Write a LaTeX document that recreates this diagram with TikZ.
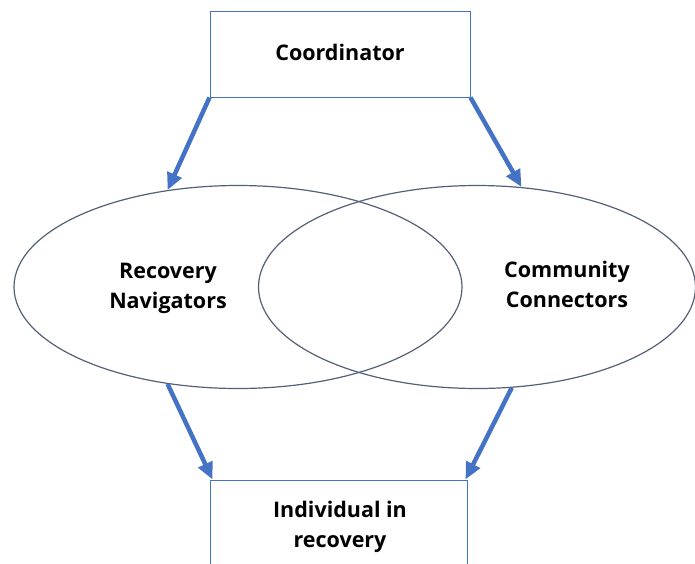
\documentclass[tikz,border=0pt]{standalone}
\usepackage{fontspec}
\setmainfont{Open Sans}
\usepackage{tikz}
\usetikzlibrary{arrows.meta}
\usetikzlibrary{positioning}
\usetikzlibrary{shapes.geometric}

\definecolor{flowblue}{RGB}{68,114,196}
\definecolor{ringgrey}{RGB}{84,96,120}

\tikzset{
  rolebox/.style={draw=flowblue, line width=1pt, inner sep=0pt},
  rolering/.style={draw=ringgrey, ellipse, line width=1.2pt, inner sep=0pt,
    minimum width=448pt, minimum height=203pt},
  rolename/.style={align=center, anchor=base, inner sep=0pt,
    font=\bfseries\fontsize{21.5}{30}\selectfont},
  flow/.style={draw=flowblue, line width=4.5pt,
    -{Triangle[length=17pt,width=15pt]}}
}

\begin{document}
\begin{tikzpicture}[x=1pt, y=-1pt]

    \clip (0, 0) rectangle (695, 563);
    \fill [white] (0, 0) rectangle (695, 563);

    \node [rolebox, minimum width=260pt, minimum height=86pt]
      (coord) at (340, 54) {};
    \node [rolename] (coordtext) at (340, 60) {Coordinator};

    \node [rolering] (nav) at (238, 287) {};
    \node [rolering, minimum width=437pt] (con) at (477, 287) {};
    \node [rolename] (navtext) at (168, 308) {Recovery\\Navigators};
    \node [rolename] (context) at (567, 307) {Community\\Connectors};

    \node [rolebox, minimum width=257pt, minimum height=130pt]
      (indiv) at (338.5, 545) {};
    \node [rolename] (indivtext) at (340, 547) {Individual in\\recovery};

    \draw [flow] (coord.south west) -- (nav.126);
    \draw [flow] (coord.south east) -- (con.66);

    \draw [flow] (nav.234) -- ([xshift=3pt]indiv.north west);
    \draw [flow] (con.289) -- ([xshift=-2pt]indiv.north east);

  \end{tikzpicture}
\end{document}
